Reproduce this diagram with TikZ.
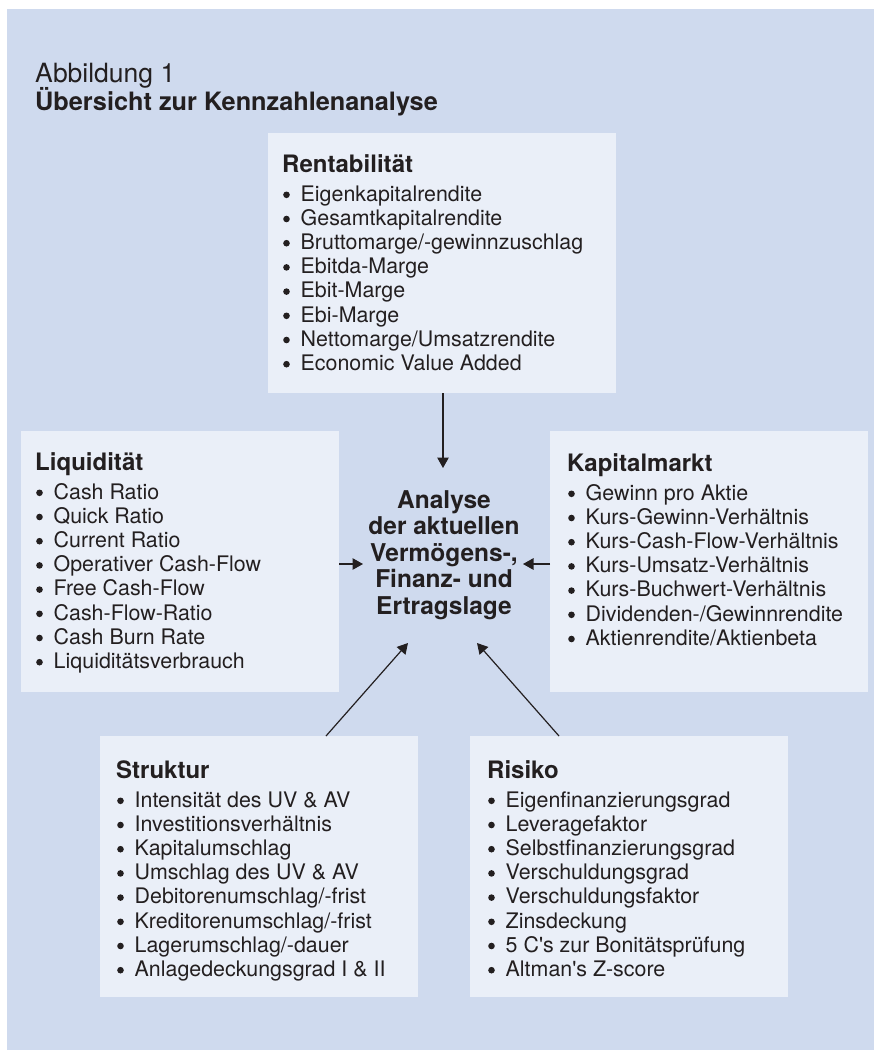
\documentclass[tikz,border=0pt]{standalone}
\usepackage{fontspec}
\setmainfont{TeX Gyre Heros}
\usetikzlibrary{arrows.meta}
\definecolor{panel}{HTML}{CFDAEE}
\definecolor{boxfill}{HTML}{EAEFF8}
\definecolor{ink}{HTML}{231F20}
\newcommand\kzlist[5]{%
  \node[head] (#1-h) at (#2,#3) {#4};
  \foreach \t [count=\i] in {#5} {
    \node[dot] (#1-b\i) at ({#2+4.5}, {#3+29+(\i-1)*24.2-6.2}) {};
    \node[item] (#1-\i) at ({#2+18.5}, {#3+29+(\i-1)*24.2}) {\t};
  }%
}
\begin{document}
\begin{tikzpicture}[x=1pt,y=-1pt,
  kbox/.style={fill=boxfill, draw=none, inner sep=0pt, outer sep=0pt, anchor=north west},
  head/.style={anchor=base west, inner sep=0pt, font=\bfseries\fontsize{24}{28}\selectfont, text=ink},
  item/.style={anchor=base west, inner sep=0pt, font=\fontsize{21.4}{24}\selectfont, text=ink},
  dot/.style={circle, fill=ink, draw=none, inner sep=0pt, minimum size=6.6pt},
  ttl/.style={anchor=base west, inner sep=0pt, text=ink},
  arr/.style={-{Triangle[length=10.5pt,width=11.5pt]}, line width=1.2pt, draw=ink}]
\useasboundingbox (0,0) rectangle (874,1050);
\fill[white] (0,0) rectangle (874,1050);
\node[fill=panel, inner sep=0pt, outer sep=0pt, anchor=north west, minimum width=867pt, minimum height=1041pt] (panel) at (7,9) {};

\node[ttl, font=\fontsize{26.5}{30}\selectfont] (abb) at (35,82) {Abbildung 1};
\node[ttl, font=\bfseries\fontsize{25.3}{30}\selectfont] (title) at (35,110) {Übersicht zur Kennzahlenanalyse};

% boxes
\node[kbox, minimum width=348pt, minimum height=260pt] (rent) at (268,133) {};
\node[kbox, minimum width=318pt, minimum height=261pt] (liq) at (21,431) {};
\node[kbox, minimum width=318pt, minimum height=261pt] (kap) at (550,431) {};
\node[kbox, minimum width=318pt, minimum height=261pt] (str) at (100,736) {};
\node[kbox, minimum width=318pt, minimum height=261pt] (ris) at (470,736) {};

\kzlist{r}{282}{172}{Rentabilität}{Eigenkapitalrendite,Gesamtkapitalrendite,Bruttomarge/-gewinnzuschlag,Ebitda-Marge,Ebit-Marge,Ebi-Marge,Nettomarge/Umsatzrendite,Economic Value Added}
\kzlist{l}{35}{470}{Liquidität}{Cash Ratio,Quick Ratio,Current Ratio,Operativer Cash-Flow,Free Cash-Flow,Cash-Flow-Ratio,Cash Burn Rate,Liquiditätsverbrauch}
\kzlist{k}{567}{471}{Kapitalmarkt}{Gewinn pro Aktie,Kurs-Gewinn-Verhältnis,Kurs-Cash-Flow-Verhältnis,Kurs-Umsatz-Verhältnis,Kurs-Buchwert-Verhältnis,Dividenden-/Gewinnrendite,Aktienrendite/Aktienbeta}
\kzlist{s}{116}{778}{Struktur}{Intensität des UV \& AV,Investitionsverhältnis,Kapitalumschlag,Umschlag des UV \& AV,Debitorenumschlag/-frist,Kreditorenumschlag/-frist,Lagerumschlag/-dauer,Anlagedeckungsgrad I \& II}
\kzlist{x}{487}{778}{Risiko}{Eigenfinanzierungsgrad,Leveragefaktor,Selbstfinanzierungsgrad,Verschuldungsgrad,Verschuldungsfaktor,Zinsdeckung,5 C\textquotesingle s zur Bonitätsprüfung,Altman\textquotesingle s Z-score}

% centre
\node[align=center, inner sep=0pt, text=ink, font=\bfseries\fontsize{24.5}{26.5}\selectfont] (center) at (444,555) {Analyse\\der aktuellen\\Vermögens-,\\Finanz- und\\Ertragslage};

\coordinate (tipT) at (443,468);
\coordinate (tipL) at (363,564);
\coordinate (tipR) at (523,564);
\coordinate (tipSL) at (408,643);
\coordinate (tipSR) at (477,643);
\coordinate (startSL) at (326,736);
\coordinate (startSR) at (559,736);

\draw[arr] (rent.south -| tipT) -- (tipT);
\draw[arr] (liq.east |- tipL) -- (tipL);
\draw[arr] (kap.west |- tipR) -- (tipR);
\draw[arr] (str.north -| startSL) -- (tipSL);
\draw[arr] (ris.north -| startSR) -- (tipSR);
\end{tikzpicture}
\end{document}
